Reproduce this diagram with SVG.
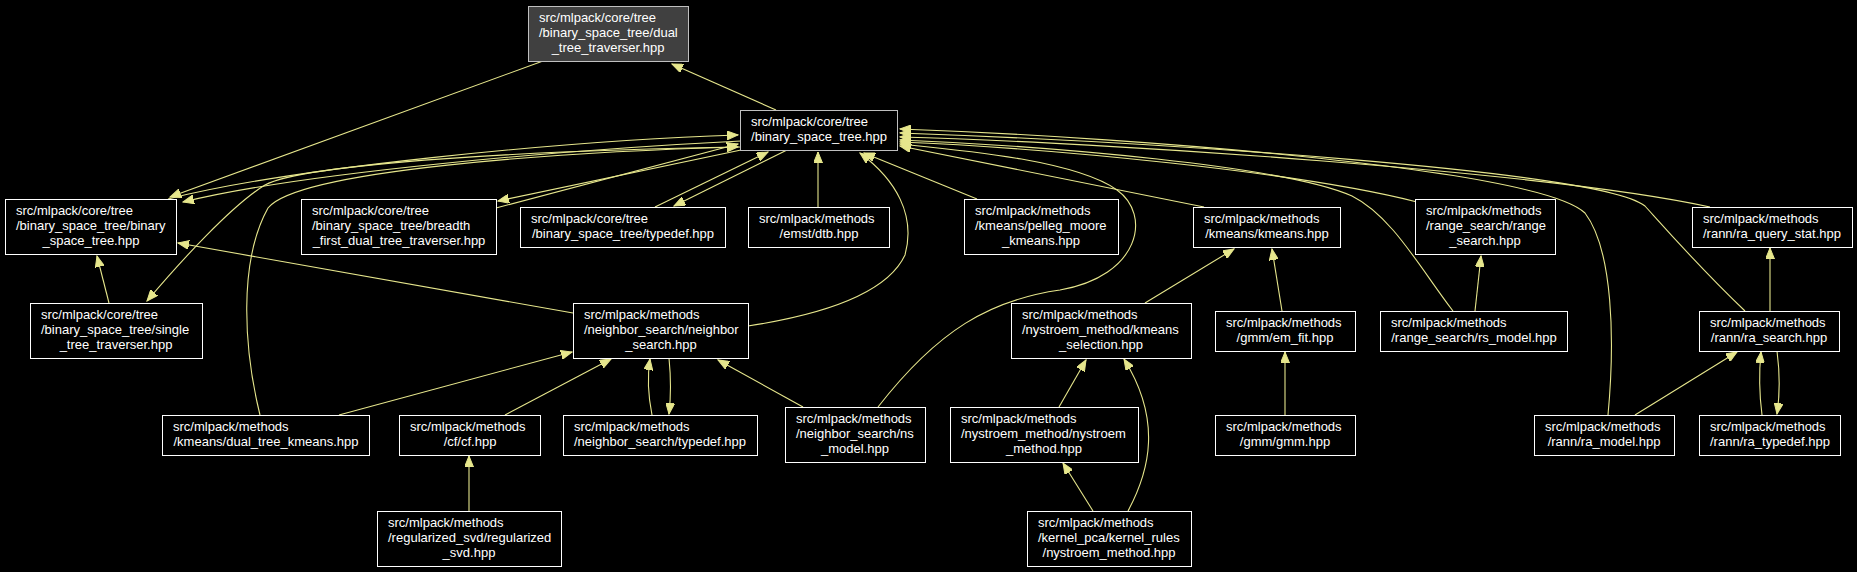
<svg xmlns="http://www.w3.org/2000/svg" width="1857" height="572" viewBox="0 0 1857 572">
<style>
.bg{fill:#000000}
.node rect{fill:#000000;stroke:#ffffff;stroke-width:1}
.node.hl rect{fill:#404040;stroke:#bfbfbf}
.node.g rect{stroke:#bfbfbf}
.node text{font-family:"Liberation Sans",Arial,sans-serif;font-size:13px;fill:#ffffff}
.node text.c{text-anchor:middle}
.edges path{fill:none;stroke:#e6e68c;stroke-width:1.1;marker-end:url(#ah)}
</style>
<defs>
<marker id="ah" markerWidth="12" markerHeight="9" refX="11" refY="4.5" orient="auto" markerUnits="userSpaceOnUse">
<path d="M0,0 L11,4.5 L0,9 z" fill="#e6e68c" stroke="#e6e68c" stroke-width="1"/>
</marker>
</defs>
<rect class="bg" x="0" y="0" width="1857" height="572"/>
<g id="edges" class="edges">
<path d="M543,61 L170,197"/>
<path d="M776,110 L672,64"/>
<path d="M168,199 C290,168 560,141 738,135"/>
<path d="M741,141 C560,150 300,173 183,202"/>
<path d="M741,147 C540,150 305,163 265,185 C232,205 180,262 147,301"/>
<path d="M260,415 C244,350 238,262 268,208 C298,170 560,152 738,147"/>
<path d="M741,150 L498,201"/>
<path d="M496,208 L738,144"/>
<path d="M655,207 L768,152"/>
<path d="M787,150 L674,206"/>
<path d="M818,207 L818,152"/>
<path d="M748,326 C800,318 884,300 905,255 C916,215 896,180 860,153"/>
<path d="M977,199 L864,153"/>
<path d="M1204,207 L900,146"/>
<path d="M1417,202 C1300,172 1050,148 900,142"/>
<path d="M1710,207 C1550,172 1100,142 900,137"/>
<path d="M1453,311 C1420,268 1392,216 1352,196 C1285,166 1050,146 900,140"/>
<path d="M1745,311 C1700,268 1672,236 1645,206 C1600,170 1150,142 900,133"/>
<path d="M1608,415 C1615,340 1613,250 1585,213 C1540,170 1150,138 900,129"/>
<path d="M878,407 C938,330 990,300 1060,290 C1140,276 1152,215 1117,190 C1075,160 960,150 900,144"/>
<path d="M573,313 L178,243"/>
<path d="M109,303 L97,256"/>
<path d="M339,415 L572,352"/>
<path d="M505,415 L611,359"/>
<path d="M652,415 C648,395 647,378 650,359"/>
<path d="M669,358 C671,378 671,396 669,414"/>
<path d="M803,407 L718,360"/>
<path d="M1145,303 L1234,249"/>
<path d="M1282,311 L1272,249"/>
<path d="M1475,311 L1481,256"/>
<path d="M1770,311 L1770,248"/>
<path d="M1059,407 L1086,360"/>
<path d="M1128,511 C1150,470 1162,420 1124,359"/>
<path d="M1093,511 L1063,463"/>
<path d="M1285,415 L1285,352"/>
<path d="M469,511 L469,456"/>
<path d="M1635,415 L1737,352"/>
<path d="M1762,415 C1759,392 1759,372 1761,352"/>
<path d="M1777,351 C1780,374 1780,394 1777,414"/>
</g>
<g id="n_dtt" class="node hl"><rect x="528.5" y="6.5" width="160" height="55"/><text x="539" y="22">src/mlpack/core/tree</text><text x="539" y="37">/binary_space_tree/dual</text><text class="c" x="608" y="52">_tree_traverser.hpp</text></g>
<g id="n_bst" class="node g"><rect x="740.5" y="110.5" width="157" height="40"/><text x="751" y="126">src/mlpack/core/tree</text><text class="c" x="819" y="141">/binary_space_tree.hpp</text></g>
<g id="n_bin" class="node"><rect x="5.5" y="199.5" width="171" height="55"/><text x="16" y="215">src/mlpack/core/tree</text><text x="16" y="230">/binary_space_tree/binary</text><text class="c" x="91" y="245">_space_tree.hpp</text></g>
<g id="n_single" class="node"><rect x="30.5" y="303.5" width="172" height="55"/><text x="41" y="319">src/mlpack/core/tree</text><text x="41" y="334">/binary_space_tree/single</text><text class="c" x="116" y="349">_tree_traverser.hpp</text></g>
<g id="n_breadth" class="node"><rect x="301.5" y="199.5" width="195" height="55"/><text x="312" y="215">src/mlpack/core/tree</text><text x="312" y="230">/binary_space_tree/breadth</text><text class="c" x="399" y="245">_first_dual_tree_traverser.hpp</text></g>
<g id="n_bstypedef" class="node"><rect x="520.5" y="207.5" width="205" height="40"/><text x="531" y="223">src/mlpack/core/tree</text><text class="c" x="623" y="238">/binary_space_tree/typedef.hpp</text></g>
<g id="n_dtb" class="node"><rect x="748.5" y="207.5" width="141" height="40"/><text x="759" y="223">src/mlpack/methods</text><text class="c" x="819" y="238">/emst/dtb.hpp</text></g>
<g id="n_pelleg" class="node"><rect x="964.5" y="199.5" width="154" height="55"/><text x="975" y="215">src/mlpack/methods</text><text x="975" y="230">/kmeans/pelleg_moore</text><text class="c" x="1041" y="245">_kmeans.hpp</text></g>
<g id="n_kmeans" class="node"><rect x="1193.5" y="207.5" width="147" height="40"/><text x="1204" y="223">src/mlpack/methods</text><text class="c" x="1267" y="238">/kmeans/kmeans.hpp</text></g>
<g id="n_range" class="node"><rect x="1415.5" y="199.5" width="140" height="55"/><text x="1426" y="215">src/mlpack/methods</text><text x="1426" y="230">/range_search/range</text><text class="c" x="1485" y="245">_search.hpp</text></g>
<g id="n_raqs" class="node"><rect x="1692.5" y="207.5" width="160" height="40"/><text x="1703" y="223">src/mlpack/methods</text><text class="c" x="1772" y="238">/rann/ra_query_stat.hpp</text></g>
<g id="n_nsearch" class="node"><rect x="573.5" y="303.5" width="175" height="55"/><text x="584" y="319">src/mlpack/methods</text><text x="584" y="334">/neighbor_search/neighbor</text><text class="c" x="661" y="349">_search.hpp</text></g>
<g id="n_kmsel" class="node"><rect x="1011.5" y="303.5" width="180" height="55"/><text x="1022" y="319">src/mlpack/methods</text><text x="1022" y="334">/nystroem_method/kmeans</text><text class="c" x="1101" y="349">_selection.hpp</text></g>
<g id="n_emfit" class="node"><rect x="1215.5" y="311.5" width="140" height="40"/><text x="1226" y="327">src/mlpack/methods</text><text class="c" x="1285" y="342">/gmm/em_fit.hpp</text></g>
<g id="n_rsmodel" class="node"><rect x="1380.5" y="311.5" width="187" height="40"/><text x="1391" y="327">src/mlpack/methods</text><text class="c" x="1474" y="342">/range_search/rs_model.hpp</text></g>
<g id="n_rasearch" class="node"><rect x="1699.5" y="311.5" width="140" height="40"/><text x="1710" y="327">src/mlpack/methods</text><text class="c" x="1769" y="342">/rann/ra_search.hpp</text></g>
<g id="n_dtk" class="node"><rect x="162.5" y="415.5" width="207" height="40"/><text x="173" y="431">src/mlpack/methods</text><text class="c" x="266" y="446">/kmeans/dual_tree_kmeans.hpp</text></g>
<g id="n_cf" class="node"><rect x="399.5" y="415.5" width="141" height="40"/><text x="410" y="431">src/mlpack/methods</text><text class="c" x="470" y="446">/cf/cf.hpp</text></g>
<g id="n_nstypedef" class="node"><rect x="563.5" y="415.5" width="194" height="40"/><text x="574" y="431">src/mlpack/methods</text><text class="c" x="660" y="446">/neighbor_search/typedef.hpp</text></g>
<g id="n_nsmodel" class="node"><rect x="785.5" y="407.5" width="140" height="55"/><text x="796" y="423">src/mlpack/methods</text><text x="796" y="438">/neighbor_search/ns</text><text class="c" x="855" y="453">_model.hpp</text></g>
<g id="n_nystroem" class="node"><rect x="950.5" y="407.5" width="188" height="55"/><text x="961" y="423">src/mlpack/methods</text><text x="961" y="438">/nystroem_method/nystroem</text><text class="c" x="1044" y="453">_method.hpp</text></g>
<g id="n_gmm" class="node"><rect x="1215.5" y="415.5" width="140" height="40"/><text x="1226" y="431">src/mlpack/methods</text><text class="c" x="1285" y="446">/gmm/gmm.hpp</text></g>
<g id="n_ramodel" class="node"><rect x="1534.5" y="415.5" width="140" height="40"/><text x="1545" y="431">src/mlpack/methods</text><text class="c" x="1604" y="446">/rann/ra_model.hpp</text></g>
<g id="n_ratypedef" class="node"><rect x="1699.5" y="415.5" width="141" height="40"/><text x="1710" y="431">src/mlpack/methods</text><text class="c" x="1770" y="446">/rann/ra_typedef.hpp</text></g>
<g id="n_rsvd" class="node"><rect x="377.5" y="511.5" width="184" height="55"/><text x="388" y="527">src/mlpack/methods</text><text x="388" y="542">/regularized_svd/regularized</text><text class="c" x="469" y="557">_svd.hpp</text></g>
<g id="n_krnys" class="node"><rect x="1027.5" y="511.5" width="164" height="55"/><text x="1038" y="527">src/mlpack/methods</text><text x="1038" y="542">/kernel_pca/kernel_rules</text><text class="c" x="1109" y="557">/nystroem_method.hpp</text></g>
</svg>
